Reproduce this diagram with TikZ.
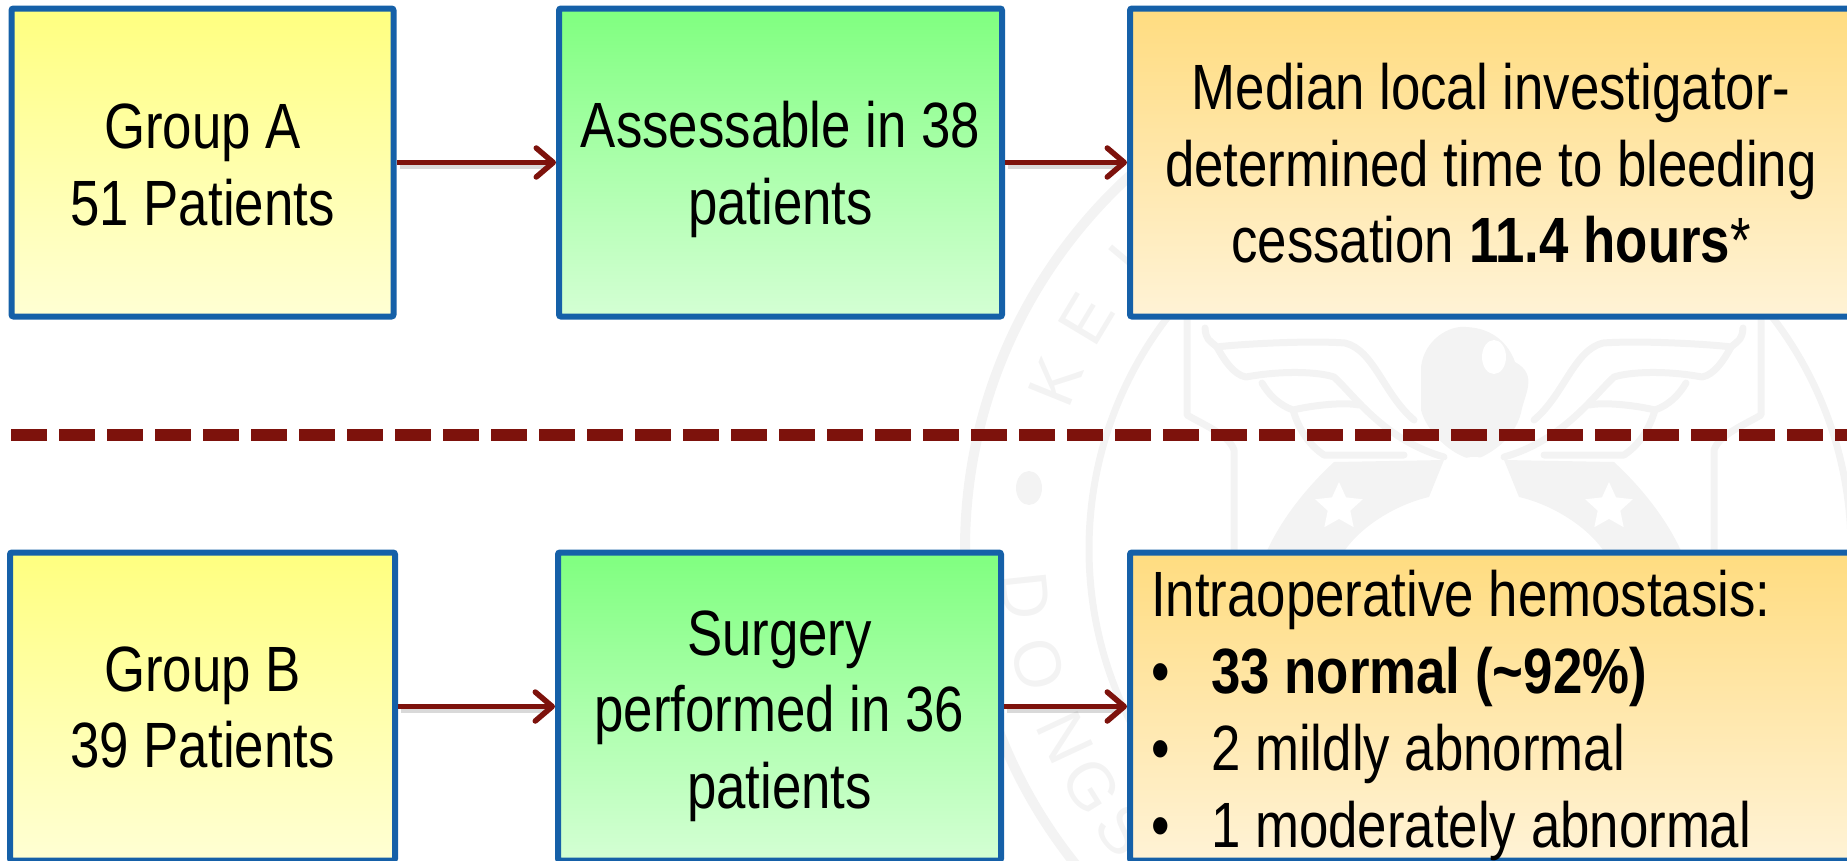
\documentclass[tikz,border=0pt]{standalone}
\usepackage{fontspec}
\setmainfont[FakeStretch=0.825]{Liberation Sans}
\newfontfamily\wmfont{Liberation Sans}
\usetikzlibrary{arrows.meta,shapes.geometric}
\definecolor{boxblue}{HTML}{1560A8}
\definecolor{maroon}{HTML}{7D120C}
\definecolor{wm}{HTML}{F3F3F3}
\tikzset{
  flowbox/.style={draw=boxblue,line width=6pt,rectangle,rounded corners=2pt,inner sep=0pt,
    shading=axis,shading angle=0,minimum height=308pt},
  boxtext/.style={align=center,inner sep=0pt,font=\fontsize{64}{76.5}\selectfont},
  yellowbox/.style={flowbox,top color=yellow!50!white,bottom color=yellow!17!white,middle color=yellow!33!white},
  greenbox/.style={flowbox,top color=green!50!white,bottom color=green!17!white,middle color=green!33!white},
  orangebox/.style={flowbox,top color={rgb,255:red,255;green,220;blue,128},bottom color={rgb,255:red,255;green,243;blue,214},middle color={rgb,255:red,255;green,231;blue,171}},
  flow/.style={draw=maroon,line width=5.5pt,-{Straight Barb[length=17pt,width=29pt,line width=5.5pt,round]}},
  flowshadow/.style={draw=black,opacity=.15,line width=5pt},
  wmline/.style={draw=wm,line width=7pt,line cap=round,line join=round},
  wmletter/.style={text=wm,font=\wmfont\fontsize{66}{66}\selectfont,inner sep=0pt},
  divider/.style={draw=maroon,line width=12pt,dash pattern=on 36pt off 12pt},
}
\begin{document}
\begin{tikzpicture}[x=1pt,y=-1pt]
\useasboundingbox (0,0) rectangle (1847,860);
\clip (0,0) rectangle (1847,860);
% watermark seal
\draw[wm,line width=10pt] (1470,549) circle (505);
\draw[wmline] (1470,549) circle (381);
\fill[wm] (1029,488) ellipse (13 and 17);
\foreach \n/\l/\a/\r in {k/K/158/68,e/E/149/59,i/I/140/50,d/D/186/-84,o/O/195/-75,n/N/205/-65,g/G/212/-58,s/S/219/-51}
  \node[wmletter,rotate=\r] (wm\n) at ({1470+447*cos(\a)},{549-447*sin(\a)}) {\l};
\begin{scope}[xshift=1474pt]
\fill[wm] (-53,367) .. controls (-50,340) and (-25,325) .. (-8,327)
  .. controls (20,328) and (35,345) .. (41,362)
  .. controls (65,375) and (50,395) .. (47,413)
  .. controls (40,440) and (15,455) .. (0,460)
  .. controls (-25,455) and (-48,430) .. (-53,410) -- cycle;
\fill[white] (20,357) ellipse (12 and 17);
\foreach \s in {1,-1}{
\begin{scope}[xscale=\s]
\draw[wmline] (-287,320) -- (-287,415) .. controls (-270,425) and (-245,435) .. (-240,450) -- (-240,560);
\draw[wmline] (-269,328) .. controls (-268,340) and (-265,340) .. (-257,347)
  .. controls (-245,345) and (-170,340) .. (-129,343)
  .. controls (-100,350) and (-90,395) .. (-60,420);
\draw[wmline] (-257,347) .. controls (-250,360) and (-240,375) .. (-228,377)
  .. controls (-190,370) and (-155,372) .. (-140,377)
  .. controls (-120,395) and (-90,440) .. (-30,457);
\draw[wmline] (-212,383) .. controls (-205,395) and (-195,405) .. (-181,410)
  .. controls (-160,405) and (-130,402) .. (-115,405);
\draw[wmline] (-181,410) .. controls (-175,430) and (-165,445) .. (-150,455) -- (-70,455);
\fill[wm] (-30,460) -- (-140,462) .. controls (-165,485) and (-195,520) .. (-211,560)
  -- (-135,560) .. controls (-120,530) and (-80,505) .. (-45,497) -- cycle;
\node[star,star points=5,star point ratio=2.1,fill=white,minimum size=50pt,inner sep=0pt] (wmstar\s) at (-135,507) {};
\end{scope}
}
\fill[white] (0,490) ellipse (35 and 33);
\end{scope}
% divider
\coordinate (divL) at (11,435);
\coordinate (divR) at (1847,435);
\draw[divider] (divL) -- (divR);
% boxes, first row
\node[yellowbox,minimum width=382pt] (a1) at (202.5,162.5) {};
\node[greenbox,minimum width=443pt] (a2) at (780.5,162.5) {};
\node[orangebox,minimum width=722pt] (a3) at (1491,162.5) {};
% boxes, second row
\node[yellowbox,minimum width=385pt] (b1) at (202.5,706.5) {};
\node[greenbox,minimum width=443pt] (b2) at (779.5,706.5) {};
\node[orangebox,minimum width=722pt] (b3) at (1491,706.5) {};
% box texts
\node[boxtext] (a1t) at ([yshift=-2.4pt]a1.center) {Group A\\51 Patients};
\node[boxtext] (a2t) at ([yshift=-7pt]a2.center) {Assessable in 38\\patients};
\node[boxtext] (a3t) at ([yshift=-1pt]a3.center) {Median local investigator-\\determined time to bleeding\\cessation \textbf{11.4 hours}*};
\node[boxtext] (b1t) at ([yshift=-1pt]b1.center) {Group B\\39 Patients};
\node[boxtext] (b2t) at ([yshift=-9.4pt]b2.center) {Surgery\\performed in 36\\patients};
\node[anchor=base west,inner sep=0pt,align=left,font=\fontsize{64}{77}\selectfont] (b3t) at (1151,847) {Intraoperative hemostasis:\\
  \makebox[60pt][l]{•}\textbf{33 normal (\char`\~92\%)}\\
  \makebox[60pt][l]{•}2 mildly abnormal\\
  \makebox[60pt][l]{•}1 moderately abnormal};
% arrows
\foreach \u/\v in {a1/a2,a2/a3,b1/b2,b2/b3}{
  \draw[flowshadow] ([shift={(3,4)}]\u.east) -- ([shift={(-8,4)}]\v.west);
  \draw[flow] (\u.east) -- (\v.west);
}
\end{tikzpicture}
\end{document}
